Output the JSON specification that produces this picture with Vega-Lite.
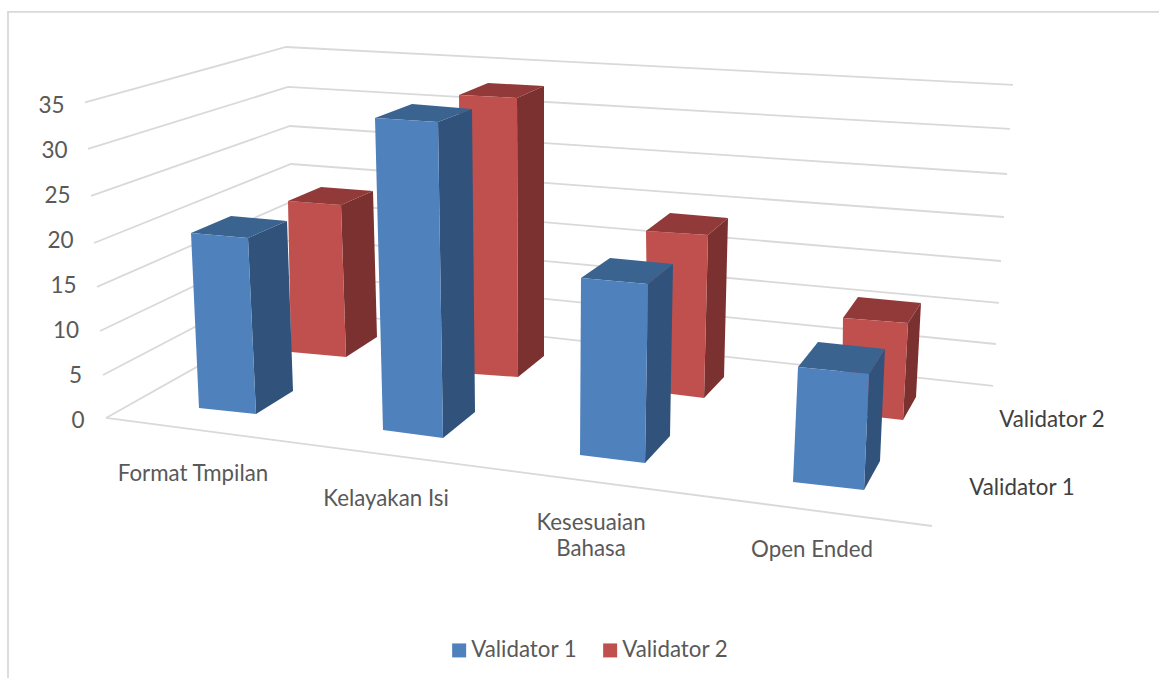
{"$schema":"https://vega.github.io/schema/vega-lite/v6.json","width":1159,"height":678,"padding":0,"autosize":{"type":"none"},"background":"white","config":{"view":{"stroke":null},"font":"Lato"},
"datasets":{
"grid":[
{"g":"frame","i":1,"x":0.08,"y":-28.89},{"g":"frame","i":2,"x":0.08,"y":45.11},{"g":"frame","i":3,"x":11.59,"y":45.11},
{"g":"35","i":1,"x":0.85,"y":35.06},{"g":"35","i":2,"x":2.86,"y":41.22},{"g":"35","i":3,"x":10.13,"y":37},
{"g":"30","i":1,"x":0.88,"y":29.89},{"g":"30","i":2,"x":2.88,"y":36.78},{"g":"30","i":3,"x":10.10,"y":32.11},
{"g":"25","i":1,"x":0.91,"y":24.67},{"g":"25","i":2,"x":2.90,"y":32.44},{"g":"25","i":3,"x":10.07,"y":27.11},
{"g":"20","i":1,"x":0.94,"y":19.44},{"g":"20","i":2,"x":2.91,"y":28.22},{"g":"20","i":3,"x":10.04,"y":22.33},
{"g":"15","i":1,"x":0.97,"y":14.56},{"g":"15","i":2,"x":2.93,"y":24.11},{"g":"15","i":3,"x":10.01,"y":17.44},
{"g":"10","i":1,"x":1.00,"y":9.67},{"g":"10","i":2,"x":2.95,"y":20},{"g":"10","i":3,"x":9.99,"y":12.78},
{"g":"5","i":1,"x":1.03,"y":4.78},{"g":"5","i":2,"x":2.96,"y":16},{"g":"5","i":3,"x":9.96,"y":8.22},
{"g":"0","i":1,"x":1.06,"y":0},{"g":"0","i":2,"x":2.98,"y":12},{"g":"0","i":3,"x":9.93,"y":3.56},
{"g":"floor","i":1,"x":1.06,"y":0},{"g":"floor","i":2,"x":9.32,"y":-12}
],
"labels":[
{"t":"Format Tmpilan","k":"cat","x":1.93,"y":-6},
{"t":"Kelayakan Isi","k":"cat","x":3.86,"y":-8.78},
{"t":"Kesesuaian","k":"cat","x":5.91,"y":-11.44},
{"t":"Bahasa","k":"cat","x":5.91,"y":-14.33},
{"t":"Open Ended","k":"cat","x":8.12,"y":-14.44},
{"t":"Validator 2","k":"ser","x":10.52,"y":0},
{"t":"Validator 1","k":"ser","x":10.22,"y":-7.56}
],
"bars":[
{"c":"Format Tmpilan","s":"Validator 1","f":"front","i":1,"x":1.91,"y":20.56},{"c":"Format Tmpilan","s":"Validator 1","f":"front","i":2,"x":2.48,"y":20},{"c":"Format Tmpilan","s":"Validator 1","f":"front","i":3,"x":2.56,"y":0.44},{"c":"Format Tmpilan","s":"Validator 1","f":"front","i":4,"x":1.99,"y":1.11},
{"c":"Format Tmpilan","s":"Validator 1","f":"top","i":1,"x":1.91,"y":20.56},{"c":"Format Tmpilan","s":"Validator 1","f":"top","i":2,"x":2.31,"y":22.44},{"c":"Format Tmpilan","s":"Validator 1","f":"top","i":3,"x":2.87,"y":21.89},{"c":"Format Tmpilan","s":"Validator 1","f":"top","i":4,"x":2.48,"y":20},
{"c":"Format Tmpilan","s":"Validator 1","f":"side","i":1,"x":2.48,"y":20},{"c":"Format Tmpilan","s":"Validator 1","f":"side","i":2,"x":2.87,"y":21.89},{"c":"Format Tmpilan","s":"Validator 1","f":"side","i":3,"x":2.93,"y":3},{"c":"Format Tmpilan","s":"Validator 1","f":"side","i":4,"x":2.56,"y":0.44},
{"c":"Format Tmpilan","s":"Validator 2","f":"front","i":1,"x":2.88,"y":24.11},{"c":"Format Tmpilan","s":"Validator 2","f":"front","i":2,"x":3.41,"y":23.67},{"c":"Format Tmpilan","s":"Validator 2","f":"front","i":3,"x":3.46,"y":6.78},{"c":"Format Tmpilan","s":"Validator 2","f":"front","i":4,"x":2.91,"y":7.33},
{"c":"Format Tmpilan","s":"Validator 2","f":"top","i":1,"x":2.88,"y":24.11},{"c":"Format Tmpilan","s":"Validator 2","f":"top","i":2,"x":3.21,"y":25.67},{"c":"Format Tmpilan","s":"Validator 2","f":"top","i":3,"x":3.73,"y":25.22},{"c":"Format Tmpilan","s":"Validator 2","f":"top","i":4,"x":3.41,"y":23.67},
{"c":"Format Tmpilan","s":"Validator 2","f":"side","i":1,"x":3.41,"y":23.67},{"c":"Format Tmpilan","s":"Validator 2","f":"side","i":2,"x":3.73,"y":25.22},{"c":"Format Tmpilan","s":"Validator 2","f":"side","i":3,"x":3.77,"y":9},{"c":"Format Tmpilan","s":"Validator 2","f":"side","i":4,"x":3.46,"y":6.78},
{"c":"Kelayakan Isi","s":"Validator 1","f":"front","i":1,"x":3.75,"y":33.33},{"c":"Kelayakan Isi","s":"Validator 1","f":"front","i":2,"x":4.38,"y":32.89},{"c":"Kelayakan Isi","s":"Validator 1","f":"front","i":3,"x":4.43,"y":-2.22},{"c":"Kelayakan Isi","s":"Validator 1","f":"front","i":4,"x":3.83,"y":-1.33},
{"c":"Kelayakan Isi","s":"Validator 1","f":"top","i":1,"x":3.75,"y":33.33},{"c":"Kelayakan Isi","s":"Validator 1","f":"top","i":2,"x":4.12,"y":34.89},{"c":"Kelayakan Isi","s":"Validator 1","f":"top","i":3,"x":4.72,"y":34.33},{"c":"Kelayakan Isi","s":"Validator 1","f":"top","i":4,"x":4.38,"y":32.89},
{"c":"Kelayakan Isi","s":"Validator 1","f":"side","i":1,"x":4.38,"y":32.89},{"c":"Kelayakan Isi","s":"Validator 1","f":"side","i":2,"x":4.72,"y":34.33},{"c":"Kelayakan Isi","s":"Validator 1","f":"side","i":3,"x":4.75,"y":0.67},{"c":"Kelayakan Isi","s":"Validator 1","f":"side","i":4,"x":4.43,"y":-2.22},
{"c":"Kelayakan Isi","s":"Validator 2","f":"front","i":1,"x":4.59,"y":35.89},{"c":"Kelayakan Isi","s":"Validator 2","f":"front","i":2,"x":5.17,"y":35.56},{"c":"Kelayakan Isi","s":"Validator 2","f":"front","i":3,"x":5.18,"y":4.56},{"c":"Kelayakan Isi","s":"Validator 2","f":"front","i":4,"x":4.61,"y":5},
{"c":"Kelayakan Isi","s":"Validator 2","f":"top","i":1,"x":4.59,"y":35.89},{"c":"Kelayakan Isi","s":"Validator 2","f":"top","i":2,"x":4.88,"y":37.22},{"c":"Kelayakan Isi","s":"Validator 2","f":"top","i":3,"x":5.44,"y":36.89},{"c":"Kelayakan Isi","s":"Validator 2","f":"top","i":4,"x":5.17,"y":35.56},
{"c":"Kelayakan Isi","s":"Validator 2","f":"side","i":1,"x":5.17,"y":35.56},{"c":"Kelayakan Isi","s":"Validator 2","f":"side","i":2,"x":5.44,"y":36.89},{"c":"Kelayakan Isi","s":"Validator 2","f":"side","i":3,"x":5.44,"y":6.89},{"c":"Kelayakan Isi","s":"Validator 2","f":"side","i":4,"x":5.18,"y":4.56},
{"c":"Kesesuaian Bahasa","s":"Validator 1","f":"front","i":1,"x":5.81,"y":15.56},{"c":"Kesesuaian Bahasa","s":"Validator 1","f":"front","i":2,"x":6.48,"y":14.89},{"c":"Kesesuaian Bahasa","s":"Validator 1","f":"front","i":3,"x":6.45,"y":-5},{"c":"Kesesuaian Bahasa","s":"Validator 1","f":"front","i":4,"x":5.80,"y":-4.11},
{"c":"Kesesuaian Bahasa","s":"Validator 1","f":"top","i":1,"x":5.81,"y":15.56},{"c":"Kesesuaian Bahasa","s":"Validator 1","f":"top","i":2,"x":6.10,"y":17.78},{"c":"Kesesuaian Bahasa","s":"Validator 1","f":"top","i":3,"x":6.73,"y":17.11},{"c":"Kesesuaian Bahasa","s":"Validator 1","f":"top","i":4,"x":6.48,"y":14.89},
{"c":"Kesesuaian Bahasa","s":"Validator 1","f":"side","i":1,"x":6.48,"y":14.89},{"c":"Kesesuaian Bahasa","s":"Validator 1","f":"side","i":2,"x":6.73,"y":17.11},{"c":"Kesesuaian Bahasa","s":"Validator 1","f":"side","i":3,"x":6.70,"y":-2},{"c":"Kesesuaian Bahasa","s":"Validator 1","f":"side","i":4,"x":6.45,"y":-5},
{"c":"Kesesuaian Bahasa","s":"Validator 2","f":"front","i":1,"x":6.46,"y":20.78},{"c":"Kesesuaian Bahasa","s":"Validator 2","f":"front","i":2,"x":7.08,"y":20.33},{"c":"Kesesuaian Bahasa","s":"Validator 2","f":"front","i":3,"x":7.04,"y":2.22},{"c":"Kesesuaian Bahasa","s":"Validator 2","f":"front","i":4,"x":6.48,"y":3},
{"c":"Kesesuaian Bahasa","s":"Validator 2","f":"top","i":1,"x":6.46,"y":20.78},{"c":"Kesesuaian Bahasa","s":"Validator 2","f":"top","i":2,"x":6.70,"y":22.78},{"c":"Kesesuaian Bahasa","s":"Validator 2","f":"top","i":3,"x":7.28,"y":22.22},{"c":"Kesesuaian Bahasa","s":"Validator 2","f":"top","i":4,"x":7.08,"y":20.33},
{"c":"Kesesuaian Bahasa","s":"Validator 2","f":"side","i":1,"x":7.08,"y":20.33},{"c":"Kesesuaian Bahasa","s":"Validator 2","f":"side","i":2,"x":7.28,"y":22.22},{"c":"Kesesuaian Bahasa","s":"Validator 2","f":"side","i":3,"x":7.24,"y":4.56},{"c":"Kesesuaian Bahasa","s":"Validator 2","f":"side","i":4,"x":7.04,"y":2.22},
{"c":"Open Ended","s":"Validator 1","f":"front","i":1,"x":7.98,"y":5.67},{"c":"Open Ended","s":"Validator 1","f":"front","i":2,"x":8.69,"y":4.89},{"c":"Open Ended","s":"Validator 1","f":"front","i":3,"x":8.64,"y":-8},{"c":"Open Ended","s":"Validator 1","f":"front","i":4,"x":7.93,"y":-7.11},
{"c":"Open Ended","s":"Validator 1","f":"top","i":1,"x":7.98,"y":5.67},{"c":"Open Ended","s":"Validator 1","f":"top","i":2,"x":8.18,"y":8.44},{"c":"Open Ended","s":"Validator 1","f":"top","i":3,"x":8.85,"y":7.67},{"c":"Open Ended","s":"Validator 1","f":"top","i":4,"x":8.69,"y":4.89},
{"c":"Open Ended","s":"Validator 1","f":"side","i":1,"x":8.69,"y":4.89},{"c":"Open Ended","s":"Validator 1","f":"side","i":2,"x":8.85,"y":7.67},{"c":"Open Ended","s":"Validator 1","f":"side","i":3,"x":8.80,"y":-4.78},{"c":"Open Ended","s":"Validator 1","f":"side","i":4,"x":8.64,"y":-8},
{"c":"Open Ended","s":"Validator 2","f":"front","i":1,"x":8.43,"y":11.11},{"c":"Open Ended","s":"Validator 2","f":"front","i":2,"x":9.08,"y":10.56},{"c":"Open Ended","s":"Validator 2","f":"front","i":3,"x":9.03,"y":-0.22},{"c":"Open Ended","s":"Validator 2","f":"front","i":4,"x":8.42,"y":0.56},
{"c":"Open Ended","s":"Validator 2","f":"top","i":1,"x":8.43,"y":11.11},{"c":"Open Ended","s":"Validator 2","f":"top","i":2,"x":8.58,"y":13.44},{"c":"Open Ended","s":"Validator 2","f":"top","i":3,"x":9.21,"y":12.78},{"c":"Open Ended","s":"Validator 2","f":"top","i":4,"x":9.08,"y":10.56},
{"c":"Open Ended","s":"Validator 2","f":"side","i":1,"x":9.08,"y":10.56},{"c":"Open Ended","s":"Validator 2","f":"side","i":2,"x":9.21,"y":12.78},{"c":"Open Ended","s":"Validator 2","f":"side","i":3,"x":9.16,"y":2.33},{"c":"Open Ended","s":"Validator 2","f":"side","i":4,"x":9.03,"y":-0.22}
]},
"encoding":{
"x":{"field":"x","type":"quantitative","axis":null,"scale":{"domain":[0,11.59],"nice":false,"zero":false}},
"y":{"field":"y","type":"quantitative","scale":{"domain":[-28.89,46.44],"nice":false,"zero":false},
"axis":{"title":null,"values":[0,5,10,15,20,25,30,35],"domain":false,"ticks":false,"grid":false,"offset":-84,"labelPadding":0,"labelFont":"Lato","labelFontSize":22.5,"labelColor":"#595959","labelOffset":2.5,"encoding":{"labels":{"dx":{"condition":[{"test":"datum.value==35","value":-20},{"test":"datum.value==30","value":-17},{"test":"datum.value==25","value":-14},{"test":"datum.value==20","value":-11},{"test":"datum.value==15","value":-8},{"test":"datum.value==10","value":-5.5},{"test":"datum.value==5","value":-2.5}],"value":0}}}}}
},
"layer":[
{"data":{"name":"grid"},"mark":{"type":"line","stroke":"#d9d9d9","strokeWidth":1.8},"encoding":{"detail":{"field":"g"},"order":{"field":"i"}}},
{"data":{"name":"bars"},"transform":[{"filter":"datum.s=='Validator 2' && datum.f=='side'"}],"mark":{"type":"line","fill":"#7b3130","strokeWidth":0,"interpolate":"linear-closed"},"encoding":{"detail":{"field":"c"},"order":{"field":"i"}}},
{"data":{"name":"bars"},"transform":[{"filter":"datum.s=='Validator 2' && datum.f=='top'"}],"mark":{"type":"line","fill":"#913a39","strokeWidth":0,"interpolate":"linear-closed"},"encoding":{"detail":{"field":"c"},"order":{"field":"i"}}},
{"data":{"name":"bars"},"transform":[{"filter":"datum.s=='Validator 2' && datum.f=='front'"}],"mark":{"type":"line","strokeWidth":0,"interpolate":"linear-closed"},"encoding":{"detail":{"field":"c"},"order":{"field":"i"},"fill":{"field":"s","type":"nominal","scale":{"domain":["Validator 1","Validator 2"],"range":["#4f81bd","#c0504d"]},"legend":{"title":null,"orient":"none","legendX":448,"legendY":639,"direction":"horizontal","columns":2,"symbolType":"square","symbolSize":196,"symbolStrokeWidth":0,"symbolOpacity":1,"labelFont":"Lato","labelFontSize":22.3,"labelColor":"#595959","labelOffset":1,"columnPadding":21,"labelLimit":200}}}},
{"data":{"name":"bars"},"transform":[{"filter":"datum.s=='Validator 1' && datum.f=='side'"}],"mark":{"type":"line","fill":"#30527b","strokeWidth":0,"interpolate":"linear-closed"},"encoding":{"detail":{"field":"c"},"order":{"field":"i"}}},
{"data":{"name":"bars"},"transform":[{"filter":"datum.s=='Validator 1' && datum.f=='top'"}],"mark":{"type":"line","fill":"#3b6390","strokeWidth":0,"interpolate":"linear-closed"},"encoding":{"detail":{"field":"c"},"order":{"field":"i"}}},
{"data":{"name":"bars"},"transform":[{"filter":"datum.s=='Validator 1' && datum.f=='front'"}],"mark":{"type":"line","strokeWidth":0,"interpolate":"linear-closed"},"encoding":{"detail":{"field":"c"},"order":{"field":"i"},"fill":{"field":"s","type":"nominal"}}},
{"data":{"name":"labels"},"transform":[{"filter":"datum.k=='cat'"}],"mark":{"type":"text","font":"Lato","fontSize":22.3,"dy":2,"color":"#595959","align":"center","baseline":"middle"},"encoding":{"text":{"field":"t"}}},
{"data":{"name":"labels"},"transform":[{"filter":"datum.k=='ser'"}],"mark":{"type":"text","font":"Lato","fontSize":22.3,"dy":2,"color":"#404040","align":"center","baseline":"middle"},"encoding":{"text":{"field":"t"}}}
]}
